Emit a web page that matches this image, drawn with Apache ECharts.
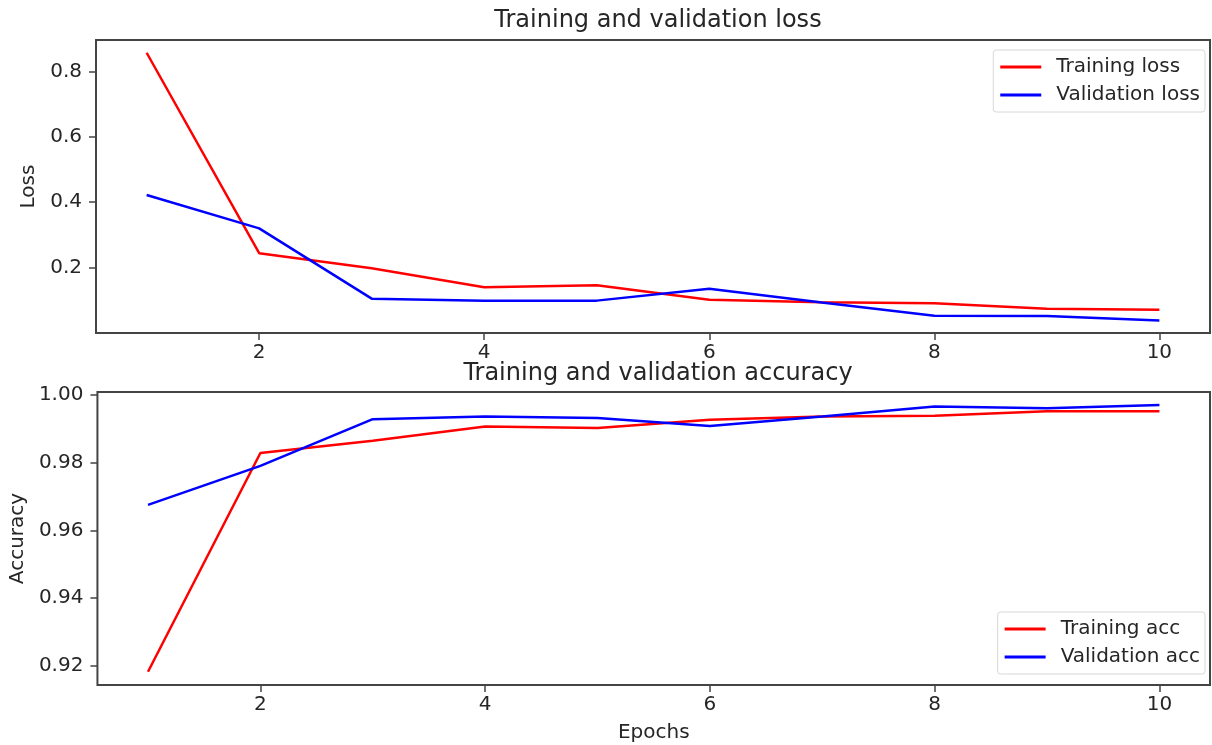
<!DOCTYPE html>
<html>
<head>
<meta charset="utf-8">
<script src="https://cdn.jsdelivr.net/npm/echarts@6/dist/echarts.min.js"></script>
<style>
  html, body { margin: 0; padding: 0; background: #fff; }
  #chart { width: 1212px; height: 745px; }
</style>
</head>
<body>
<div id="chart"></div>
<script>
// data
const epochs = [1, 2, 3, 4, 5, 6, 7, 8, 9, 10]
const trainLoss = [0.857, 0.244, 0.198, 0.140, 0.146, 0.102, 0.094, 0.091, 0.074, 0.071]
const valLoss = [0.422, 0.320, 0.105, 0.099, 0.099, 0.135, 0.093, 0.053, 0.052, 0.038]
const trainAcc = [0.9183, 0.9828, 0.9864, 0.9906, 0.9902, 0.9926, 0.9936, 0.9938, 0.9951, 0.9951]
const valAcc = [0.9675, 0.9790, 0.9928, 0.9936, 0.9931, 0.9908, 0.9936, 0.9965, 0.9960, 0.9970]

// tick labels
const epochTicks = [2, 4, 6, 8, 10]
const lossTicks = [0.2, 0.4, 0.6, 0.8]
const accTicks = [0.92, 0.94, 0.96, 0.98, 1.00]

const FONT = 'DejaVu Sans'
const TEXT = '#262626'
const RED = '#ff0000'
const BLUE = '#0000ff'

const chart = echarts.init(document.getElementById('chart'))

const pairs = arr => epochs.map((e, i) => [e, arr[i]])

// matplotlib-like x axis (5% margins)
const xAxisFor = (gridIndex, withName) => ({
  type: 'value',
  gridIndex,
  min: 0.55,
  max: 10.45,
  name: withName ? 'Epochs' : '',
  nameLocation: 'middle',
  nameGap: 38,
  nameTextStyle: { fontFamily: FONT, fontSize: 20, color: TEXT },
  axisLine: { show: false },
  splitLine: { show: false },
  axisTick: {
    show: true, length: 7, inside: false,
    customValues: epochTicks,
    lineStyle: { color: '#444', width: 1.5 }
  },
  axisLabel: {
    customValues: epochTicks,
    margin: 10,
    fontFamily: FONT, fontSize: 20, color: TEXT
  }
})

const yAxisFor = (gridIndex, name, min, max, ticks, digits, gap) => ({
  type: 'value',
  gridIndex,
  min, max,
  name,
  nameLocation: 'middle',
  nameGap: gap,
  nameTextStyle: { fontFamily: FONT, fontSize: 20, color: TEXT },
  axisLine: { show: false },
  splitLine: { show: false },
  axisTick: {
    show: true, length: 7, inside: false,
    customValues: ticks,
    lineStyle: { color: '#444', width: 1.5 }
  },
  axisLabel: {
    customValues: ticks,
    margin: 14,
    fontFamily: FONT, fontSize: 20, color: TEXT,
    formatter: v => v.toFixed(digits)
  }
})

const lineSeries = (name, data, color, idx) => ({
  name,
  type: 'line',
  xAxisIndex: idx,
  yAxisIndex: idx,
  data: pairs(data),
  showSymbol: false,
  symbol: 'none',
  lineStyle: { color, width: 2.5 },
  itemStyle: { color },
  animation: false
})

const legendFor = (names, top) => ({
  data: names,
  orient: 'vertical',
  right: 7,
  top,
  align: 'left',
  icon: 'rect',
  itemWidth: 41,
  itemHeight: 3,
  itemGap: 8,
  padding: [7, 5, 7, 7],
  borderColor: '#d8d8d8',
  borderWidth: 1,
  borderRadius: 3,
  backgroundColor: 'rgba(255,255,255,0.8)',
  textStyle: { fontFamily: FONT, fontSize: 20, color: TEXT, padding: [0, 0, 0, 10] }
})

const option = {
  backgroundColor: '#fff',
  animation: false,
  title: [
    {
      text: 'Training and validation loss',
      left: 653, top: 4, textAlign: 'center',
      textStyle: { fontFamily: FONT, fontSize: 24, fontWeight: 'normal', color: TEXT }
    },
    {
      text: 'Training and validation accuracy',
      left: 653, top: 357, textAlign: 'center',
      textStyle: { fontFamily: FONT, fontSize: 24, fontWeight: 'normal', color: TEXT }
    }
  ],
  legend: [
    legendFor(['Training loss', 'Validation loss'], 50),
    legendFor(['Training acc', 'Validation acc'], 612)
  ],
  grid: [
    { left: 96, top: 40, width: 1114, height: 293, show: true, borderColor: '#444', borderWidth: 2, backgroundColor: 'transparent' },
    { left: 96, top: 392, width: 1114, height: 293, show: true, borderColor: '#444', borderWidth: 2, backgroundColor: 'transparent' }
  ],
  xAxis: [xAxisFor(0, false), xAxisFor(1, true)],
  yAxis: [
    yAxisFor(0, 'Loss', 0, 0.896, lossTicks, 1, 46),
    yAxisFor(1, 'Accuracy', 0.9144, 1.0008, accTicks, 2, 66)
  ],
  series: [
    lineSeries('Training loss', trainLoss, RED, 0),
    lineSeries('Validation loss', valLoss, BLUE, 0),
    lineSeries('Training acc', trainAcc, RED, 1),
    lineSeries('Validation acc', valAcc, BLUE, 1)
  ]
}

chart.setOption(option)
window.addEventListener('resize', () => chart.resize())
</script>
</body>
</html>
